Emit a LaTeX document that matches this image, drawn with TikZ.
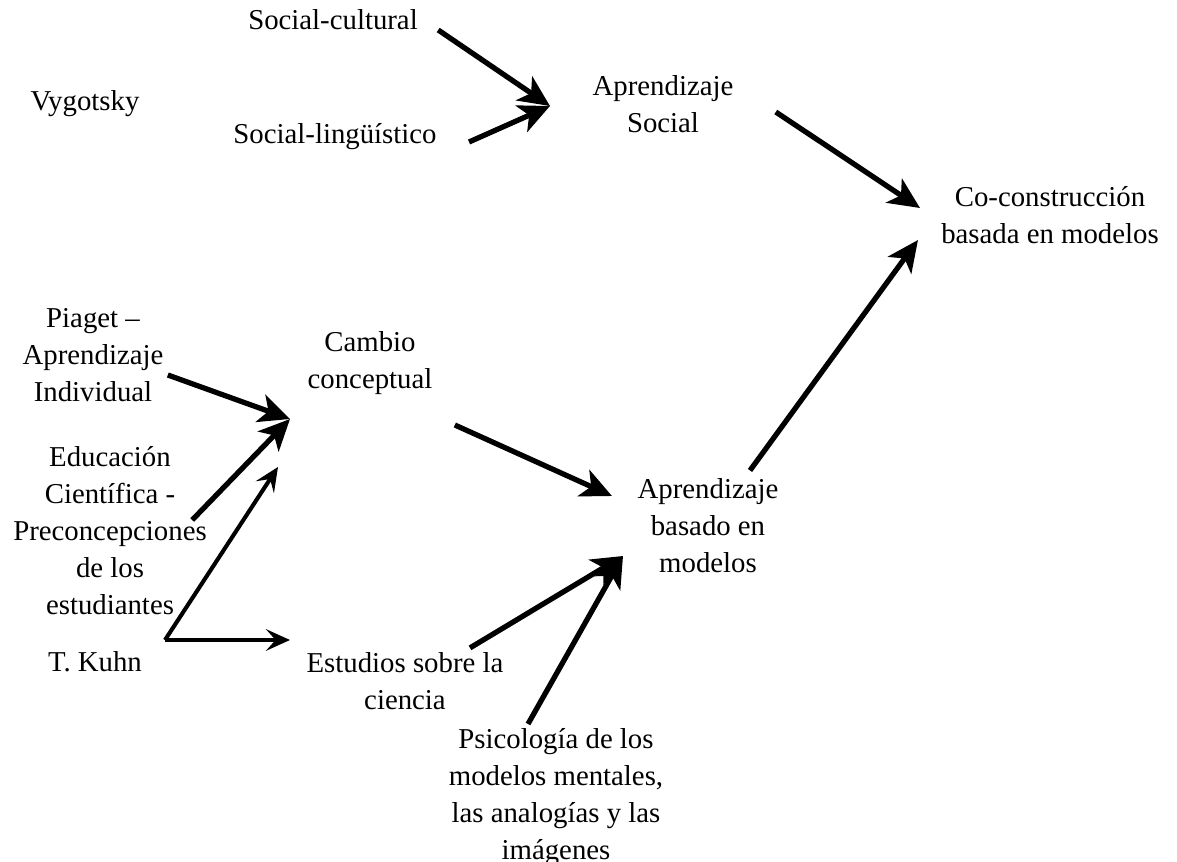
\documentclass[tikz,border=0pt]{standalone}
\usepackage{fontspec}
\setmainfont{Liberation Serif}
\usetikzlibrary{arrows.meta}
\tikzset{
  conceptText/.style={
    align=center,
    font=\fontsize{12}{15.4}\selectfont,
    inner sep=0pt
  },
  flowArrow/.style={-{Stealth[length=13pt,width=12pt,inset=3.5pt]}, line width=2.2pt, black},
  kuhnArrow/.style={-{Stealth[length=10pt,width=9pt,inset=4pt]}, line width=1.7pt, black}
}

\begin{document}
\begin{tikzpicture}[x=0.01465cm,y=-0.01465cm]
  \useasboundingbox (0,0) rectangle (1177,862);

  % concepts
  \node[conceptText] (socCult)  at (333,20)  {Social-cultural};
  \node[conceptText] (vygotsky) at (85,104)  {Vygotsky};
  \node[conceptText] (socLing)  at (335,137) {Social-lingüístico};
  \node[conceptText] (aprSoc)   at (663,104) {Aprendizaje\\Social};
  \node[conceptText] (coCon)    at (1050,215) {Co-construcción\\basada en modelos};
  \node[conceptText] (piaget)   at (93,355)  {Piaget --\\Aprendizaje\\Individual};
  \node[conceptText] (cambio)   at (370,363) {Cambio\\conceptual};
  \node[conceptText] (educ)     at (110,531) {Educación\\Científica -\\Preconcepciones\\de los\\estudiantes};
  \node[conceptText] (aprMod)   at (708,526) {Aprendizaje\\basado en\\modelos};
  \node[conceptText] (kuhn)     at (95,662)  {T. Kuhn};
  \node[conceptText] (estudios) at (405,681) {Estudios sobre la\\ciencia};
  \node[conceptText] (psico)    at (556,797) {Psicología de los\\modelos mentales,\\las analogías y las\\imágenes};

  % arrival points
  \coordinate (socIn)      at (550,106);
  \coordinate (coConIn)    at (920,208);
  \coordinate (coConIn2)   at (918,240);
  \coordinate (cambioIn)   at (290,419);
  \coordinate (cambioIn2)  at (278,467);
  \coordinate (kuhnOut)    at (165,640);
  \coordinate (estudiosIn) at (290,640);
  \coordinate (modelosIn)  at (612,496);
  \coordinate (modelosIn2) at (623,556);

  \draw[flowArrow] ([shift={(20,10)}]socCult.east) -- (socIn);
  \draw[flowArrow] ([shift={(32,5)}]socLing.east) -- (socIn);
  \draw[flowArrow] ([shift={(42,8)}]aprSoc.east) -- (coConIn);
  \draw[flowArrow] ([shift={(42,-8)}]aprMod.north) -- (coConIn2);
  \draw[flowArrow] ([shift={(4,20)}]piaget.east) -- (cambioIn);
  \draw[flowArrow] ([shift={(-15,-11)}]educ.east) -- (cambioIn);
  \draw[flowArrow] ([shift={(22,62)}]cambio.east) -- (modelosIn);
  \draw[flowArrow] ([shift={(65,-4)}]estudios.north) -- (modelosIn2);
  \draw[flowArrow] ([shift={(-28,-4)}]psico.north) -- (modelosIn2);

  \draw[kuhnArrow] (kuhnOut) -- (cambioIn2);
  \draw[kuhnArrow] (kuhnOut) -- (estudiosIn);
\end{tikzpicture}
\end{document}
